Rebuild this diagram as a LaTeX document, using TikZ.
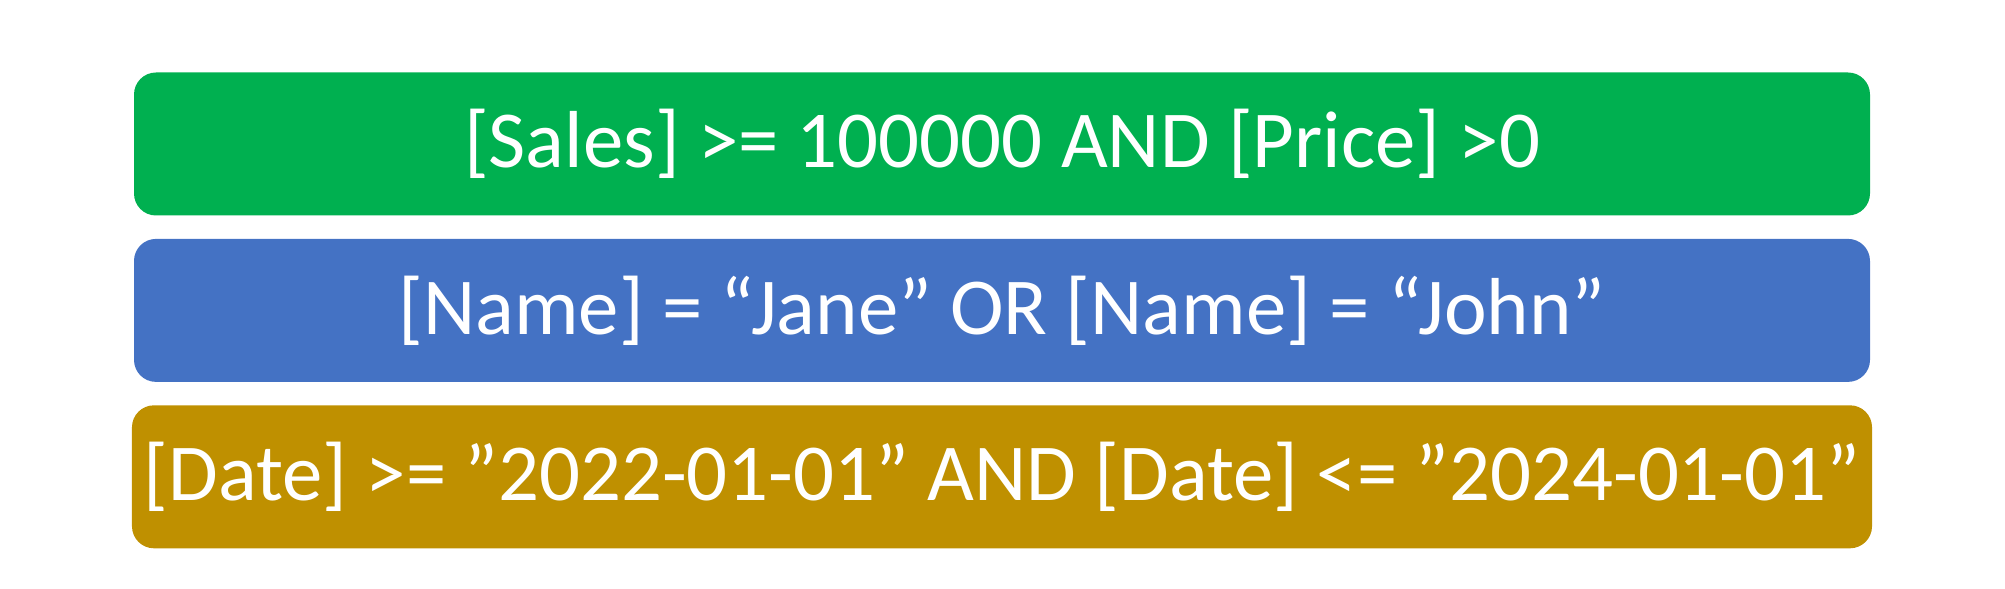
\documentclass[tikz,border=0pt]{standalone}
\usepackage{fontspec}
\setmainfont{Carlito}
\usetikzlibrary{positioning}
\definecolor{salesgreen}{RGB}{0,176,80}
\definecolor{nameblue}{RGB}{68,114,196}
\definecolor{dategold}{RGB}{191,144,0}
\tikzset{
    filterbox/.style={rectangle, rounded corners=0.22cm, minimum width=17.36cm, minimum height=1.43cm, text centered, text=white, font=\fontsize{23}{27}\selectfont}
    }
\begin{document}
\begin{tikzpicture}[node distance=0.22cm]
        \useasboundingbox (0,0) rectangle (20.05,5.89);
        \node[filterbox, fill=salesgreen] (sales) at (10.02,4.45) {[Sales] >= 100000 AND [Price] >0};
        \node[filterbox, fill=nameblue, below = of sales] (name) {[Name] = “Jane” OR [Name] = “John”};
        \node[filterbox, fill=dategold, below = of name] (date) {[Date] >= "2022-01-01" AND [Date] <= "2024-01-01"};
\end{tikzpicture}
\end{document}
